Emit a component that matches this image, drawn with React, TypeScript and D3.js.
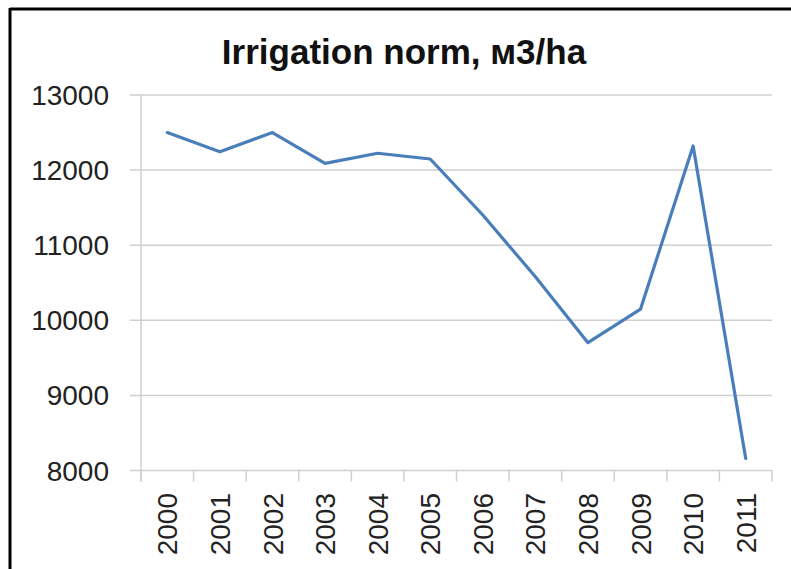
import React from "react";
import * as d3 from "d3";

const years = ["2000", "2001", "2002", "2003", "2004", "2005", "2006", "2007", "2008", "2009", "2010", "2011"];
const irrigation = [12500, 12245, 12500, 12090, 12224, 12148, 11402, 10580, 9702, 10150, 12321, 8160];
const yTicks = [8000, 9000, 10000, 11000, 12000, 13000];
const title = "Irrigation norm, м3/ha";

const W = 791;
const H = 569;
const left = 141;
const right = 772;
const top = 95;
const bottom = 470.5;

export default function App() {
  const x = d3.scaleBand<string>().domain(years).range([left, right]).padding(0);
  const y = d3.scaleLinear().domain([8000, 13000]).range([bottom, top]);
  const line = d3
    .line<number>()
    .x((_, i) => (x(years[i]) as number) + x.bandwidth() / 2)
    .y((d) => y(d));
  const tickXs = years.map((yr) => x(yr) as number).concat([right]);

  return (
    <svg
      width={W}
      height={H}
      style={{ position: "fixed", left: 0, top: 0, background: "#fff" }}
    >
      <rect x={0} y={0} width={W} height={H} fill="#fff" />
      {/* frame */}
      <line x1={10} y1={9} x2={W} y2={9} stroke="#000" strokeWidth={3} />
      <line x1={10} y1={8} x2={10} y2={H} stroke="#000" strokeWidth={3} />

      <text
        x={404}
        y={64}
        textAnchor="middle"
        fontFamily="Liberation Sans, Arial, sans-serif"
        fontWeight="bold"
        fontSize={35}
        fill="#111"
      >
        {title}
      </text>

      {/* gridlines */}
      {yTicks.map((t) => (
        <line key={t} x1={130} x2={right} y1={y(t)} y2={y(t)} stroke="#cfcfcf" strokeWidth={1.5} />
      ))}
      {/* y axis line */}
      <line x1={left} x2={left} y1={top} y2={bottom + 11} stroke="#cfcfcf" strokeWidth={1.5} />
      {/* x ticks */}
      {tickXs.map((tx, i) => (
        <line key={i} x1={tx} x2={tx} y1={bottom} y2={bottom + 11} stroke="#cfcfcf" strokeWidth={1.5} />
      ))}

      {/* y labels */}
      {yTicks.map((t) => (
        <text
          key={t}
          x={109}
          y={y(t)}
          dy="0.36em"
          textAnchor="end"
          fontFamily="Liberation Sans, Arial, sans-serif"
          fontSize={28}
          fill="#222"
        >
          {t}
        </text>
      ))}

      {/* x labels */}
      {years.map((yr) => (
        <text
          key={yr}
          transform={`translate(${(x(yr) as number) + x.bandwidth() / 2},493) rotate(-90)`}
          dy="0.36em"
          textAnchor="end"
          fontFamily="Liberation Sans, Arial, sans-serif"
          fontSize={28}
          fill="#222"
        >
          {yr}
        </text>
      ))}

      <path
        d={line(irrigation) as string}
        fill="none"
        stroke="#4a7ebb"
        strokeWidth={3.2}
        strokeLinejoin="round"
        strokeLinecap="round"
      />
    </svg>
  );
}
